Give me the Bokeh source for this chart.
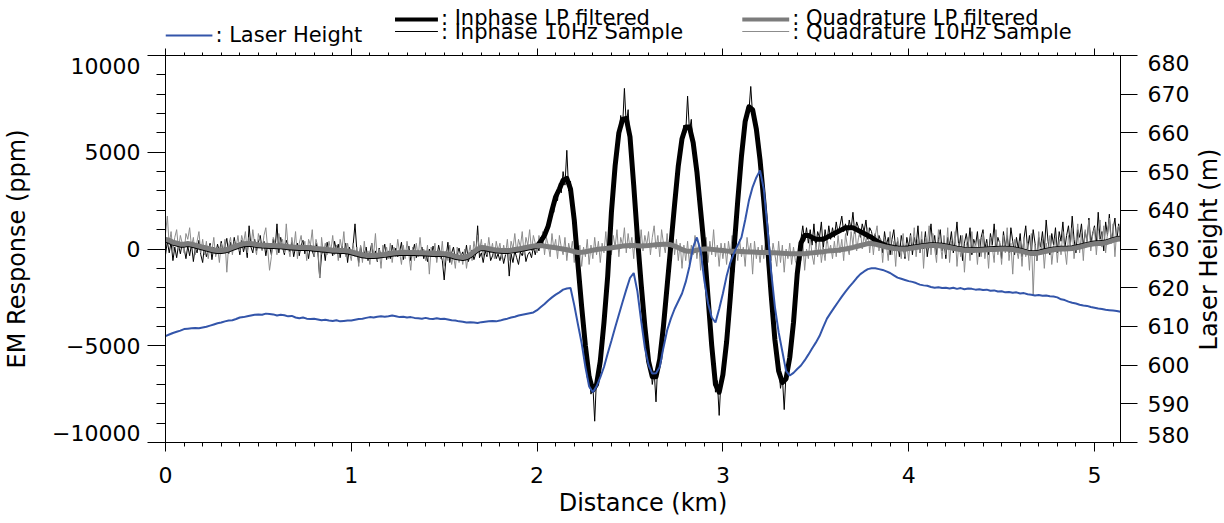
import math
import numpy as np
from bokeh.plotting import figure
from bokeh.models import Range1d, LinearAxis, SingleIntervalTicker, FixedTicker
from bokeh.layouts import column, row
from bokeh.core.properties import value
from bokeh.embed import file_html
from bokeh.resources import INLINE

# ---------------- data ----------------
# low-pass curves and laser height: one value every 0.02 km from 0.00 km
inphase_lp = [
    450, 400, 300, 250, 200, 200, 230, 200, 150, 100,
    50, 0, -50, -100, -130, -130, -100, -50, 30, 100,
    170, 220, 240, 230, 200, 170, 150, 140, 130, 130,
    120, 110, 90, 70, 50, 40, 30, 30, 30, 10,
    -10, -30, -50, -70, -90, -110, -120, -130, -130, -150,
    -200, -250, -300, -350, -380, -390, -390, -370, -350, -330,
    -300, -270, -250, -230, -220, -230, -230, -230, -240, -250,
    -260, -270, -280, -280, -280, -290, -320, -370, -430, -470,
    -490, -450, -350, -200, -50, 30, 10, -30, -70, -100,
    -120, -130, -130, -110, -80, -50, -20, 20, 60, 100,
    150, 400, 700, 1200, 2000, 2700, 3100, 3550, 3650, 3100,
    1500, -800, -3000, -5000, -6600, -7300, -7000, -5800, -3800, -1400,
    1900, 4300, 6000, 6700, 6750, 5800, 3300, 600, -1800, -4000,
    -5800, -6600, -6600, -5700, -4000, -1900, 200, 2300, 4300, 5700,
    6300, 6300, 5500, 4000, 2000, 0, -2500, -5000, -7000, -7400,
    -6500, -4800, -2500, 0, 2500, 4800, 6600, 7350, 7200, 6200,
    4600, 2500, 200, -2400, -4700, -6300, -6900, -6700, -5600, -3800,
    -1300, 300, 700, 700, 600, 500, 500, 500, 600, 700,
    800, 900, 1000, 1100, 1100, 1100, 1000, 900, 800, 700,
    600, 450, 350, 250, 180, 120, 80, 50, 40, 40,
    60, 90, 120, 150, 180, 200, 220, 220, 210, 190,
    160, 120, 80, 40, 10, -20, -40, -40, -30, -20,
    -10, 0, 10, 20, 30, 40, 40, 30, 10, -20,
    -60, -110, -160, -190, -190, -160, -120, -80, -40, 0,
    20, 40, 40, 50, 70, 100, 140, 190, 240, 280,
    310, 320, 330, 360, 420, 480, 540, 560,
]
quadrature_lp = [
    500, 450, 350, 300, 250, 250, 280, 250, 200, 150,
    100, 50, 0, -50, -80, -80, -50, 0, 80, 150,
    220, 270, 290, 280, 250, 220, 200, 190, 180, 180,
    170, 160, 140, 120, 100, 90, 80, 80, 80, 60,
    40, 20, 0, -20, -40, -60, -70, -80, -80, -100,
    -150, -200, -250, -300, -330, -340, -340, -320, -300, -280,
    -250, -220, -200, -180, -170, -180, -180, -180, -190, -200,
    -210, -220, -230, -230, -230, -240, -270, -320, -380, -420,
    -440, -400, -300, -150, 0, 80, 60, 20, -20, -50,
    -70, -80, -80, -60, -30, 0, 40, 80, 120, 150,
    170, 180, 150, 120, 90, 60, 30, 0, -40, -80,
    -140, -180, -170, -140, -100, -60, -30, 0, 20, 40,
    60, 90, 120, 150, 170, 180, 180, 170, 160, 170,
    180, 200, 220, 230, 240, 240, 220, 150, 60, -30,
    -100, -120, -100, -60, -20, 0, 0, -20, -40, -60,
    -80, -100, -110, -120, -120, -130, -140, -150, -160, -170,
    -180, -180, -180, -190, -200, -210, -220, -230, -240, -250,
    -250, -250, -240, -220, -200, -180, -160, -140, -110, -90,
    -80, -60, -30, 0, 40, 80, 130, 180, 230, 280,
    280, 250, 200, 150, 100, 60, 30, 10, 0, 0,
    20, 50, 80, 110, 140, 160, 180, 180, 170, 150,
    120, 80, 40, 0, -30, -60, -80, -80, -70, -60,
    -50, -40, -30, -20, -10, 0, 0, -10, -30, -60,
    -100, -150, -200, -230, -230, -200, -160, -120, -80, -40,
    -20, 0, 0, 10, 30, 60, 100, 150, 200, 240,
    270, 280, 290, 320, 380, 440, 500, 520,
]
laser_height = [
    607.5, 607.9, 608.3, 608.6, 608.9, 609.3, 609.4, 609.5, 609.6, 609.5,
    609.7, 609.9, 610.2, 610.5, 610.8, 611.0, 611.3, 611.5, 611.6, 611.9,
    612.3, 612.4, 612.6, 612.8, 613.0, 613.1, 613.0, 613.3, 613.2, 613.1,
    612.8, 613.0, 612.9, 612.6, 612.7, 612.3, 612.1, 612.3, 612.0, 611.9,
    612.0, 611.8, 611.6, 611.7, 611.5, 611.4, 611.6, 611.3, 611.4, 611.5,
    611.5, 611.7, 611.9, 612.0, 612.2, 612.4, 612.3, 612.5, 612.6, 612.5,
    612.6, 612.8, 612.6, 612.4, 612.5, 612.3, 612.4, 612.2, 612.1, 612.0,
    612.2, 612.0, 611.9, 612.1, 611.9, 612.0, 611.8, 611.6, 611.5, 611.3,
    611.2, 611.0, 611.1, 611.0, 610.9, 611.1, 611.2, 611.3, 611.4, 611.3,
    611.5, 611.8, 612.0, 612.3, 612.5, 612.8, 613.0, 613.2, 613.4, 613.6,
    614.2, 615.0, 615.8, 616.7, 617.5, 618.2, 618.8, 619.5, 619.8, 619.9,
    615.5, 610.5, 605.6, 599.5, 594.5, 593.0, 594.5, 596.8, 599.5, 603.0,
    606.3, 609.7, 613.0, 616.3, 619.5, 622.5, 623.8, 619.0, 611.5, 604.5,
    600.0, 597.8, 597.9, 599.5, 604.5, 609.0, 612.0, 614.5, 616.5, 618.5,
    621.5, 625.5, 630.5, 633.0, 629.5, 621.9, 616.0, 612.3, 611.0, 614.5,
    618.5, 623.0, 626.5, 629.0, 631.0, 633.0, 637.5, 642.5, 646.0, 648.5,
    650.3, 645.5, 635.6, 624.0, 615.0, 608.5, 603.5, 598.5, 597.3, 598.0,
    599.0, 599.9, 601.2, 602.7, 604.3, 605.8, 607.5, 609.8, 612.0, 613.5,
    614.9, 616.3, 617.7, 619.0, 620.2, 621.3, 622.5, 623.5, 624.2, 624.8,
    625.0, 625.0, 624.8, 624.6, 624.2, 623.8, 623.2, 622.6, 622.3, 622.0,
    621.7, 621.5, 621.2, 620.8, 620.6, 620.5, 620.2, 620.0, 620.1, 619.9,
    620.0, 619.8, 620.0, 619.7, 619.9, 619.6, 619.8, 619.7, 619.5, 619.6,
    619.4, 619.5, 619.2, 619.3, 619.0, 619.1, 618.8, 618.9, 618.7, 618.8,
    618.5, 618.6, 618.3, 618.2, 618.0, 618.1, 617.9, 618.0, 617.8, 617.7,
    617.5, 617.0, 616.8, 616.4, 616.1, 615.9, 615.6, 615.4, 615.3, 615.0,
    614.8, 614.6, 614.5, 614.3, 614.2, 614.1, 614.0, 613.8,
]
# 10 Hz samples: one value every 0.01 km from 0.00 km
inphase_10hz = [
    -300, 400, -200, 350, -600, 100, -450, 200, -250, 300, 50, -500, 150, -350, 250, -650, 100, -200, 450, -300,
    -700, 200, -400, -100, 300, -550, 100, -300, 250, -150, 400, -200, 100, 550, -250, 350, -100, 600, 0, 300,
    -300, 450, -150, 300, -450, 1200, 100, -200, 500, -100, 350, 700, -50, 400, -350, 250, 150, -300, 500, 0,
    1300, -200, 600, 100, -300, 450, 200, -150, 350, -400, 100, 300, -350, 200, 450, -250, 50, -500, 250, -100,
    -400, 300, -150, -1500, -300, 100, -600, 350, -200, 50, -350, 400, -100, 250, -450, 150, -250, 300, -700, 100,
    -300, 200, 1300, -100, -700, 150, -400, -250, 100, -600, -200, 300, -500, -100, -650, 50, -400, -200, 250, -550,
    -100, -500, 200, -300, 50, -400, -150, 350, -550, -100, -350, 150, -600, -200, 250, -450, -50, -300, 100, -500,
    -200, -650, 0, -400, 150, -300, -500, 200, -250, -600, -1600, -450, 350, -700, -200, 100, -550, -300, 50, -400,
    -150, -500, 200, -650, -300, -50, -550, -250, 1200, -450, -200, -700, -100, -400, 100, -600, -350, 0, -500, -250,
    -600, -200, -750, -300, 50, -1400, -250, -700, -100, -450, -800, -150, -350, 100, -650, -300, -150, -450, 100, -300,
    200, -100, 600, 200, 1000, 700, 1500, 1300, 2200, 1900, 2900, 2500, 3400, 2900, 4000, 3300, 5100, 3000, 3500, 2000,
    1800, 100, -500, -2200, -2700, -4300, -4700, -6200, -6300, -7500, -7000, -8900, -6600, -7000, -5400, -5200, -3500, -2900, -1100, 0,
    1600, 3400, 4000, 5600, 5700, 6900, 6300, 8300, 6400, 7200, 5500, 4900, 3000, 2300, 300, -300, -2100, -2600, -4300, -4600,
    -6100, -5900, -7000, -6300, -7900, -5800, -6000, -4600, -4300, -2700, -2200, -600, 0, 1500, 2000, 3600, 4000, 5300, 5400, 6400,
    6000, 7900, 6100, 6700, 5200, 5000, 3700, 3300, 1700, 1300, -300, -1000, -2800, -3500, -5300, -5700, -7400, -6800, -8600, -6700,
    -6800, -5400, -5100, -3400, -2700, -1000, -200, 1500, 2300, 3900, 4600, 6000, 6400, 7300, 7100, 8400, 6900, 7000, 5900, 5600,
    4900, 3300, 2700, 1100, 400, -1300, -2200, -3800, -4500, -5800, -6000, -7200, -6600, -8300, -6400, -6400, -5300, -4900, -3600, -2300,
    -1500, -200, 500, 1200, 400, 1100, 300, 1000, 200, 1300, 100, 900, 600, 1400, 0, 1000, 300, 1200, 500, 1100,
    600, 1400, 800, 1200, 1700, 900, 1300, 700, 1500, 1000, 1900, 800, 1400, 1100, 600, 1300, 900, 1500, 500, 1100,
    900, 300, 800, 100, 700, 400, -200, 900, 200, 600, -300, 500, 1000, 0, 400, -400, 700, 200, -500, 600,
    100, 800, -300, 600, 200, 1200, -200, 500, 0, 900, -400, 400, 1300, 100, 700, -300, 500, 1000, -100, 400,
    -500, 600, 200, 900, -200, 400, 1400, 0, 700, -600, 300, 800, 100, 1100, -300, 500, 200, 900, -400, 600,
    1000, 0, 500, -300, 800, 200, 1300, -100, 600, 300, -500, 900, 100, 700, -200, 1100, 400, -300, 600, 0,
    800, -400, 500, 1200, 0, 700, -200, 1000, 300, -600, 600, 100, 900, -100, 1500, 400, -300, 800, 200, 1100,
    -200, 900, 400, 1400, 0, 700, 1200, 200, 1700, 500, -200, 1000, 600, 1300, 100, 900, 400, 1600, 300, 800,
    1200, 200, 1900, 500, 900, -100, 1400, 700, 1800, 300, 1000, 1600, 400, 1300, 600,
]
quadrature_10hz = [
    800, 1700, 200, 900, -100, 600, 1000, 0, 700, 300, -200, 800, 500, 1100, 100, 600, -300, 400, 900, -200,
    500, -300, 400, -500, 200, -100, 600, -400, 100, -700, 300, -200, 500, -1200, 200, 600, -300, 400, 100, 700,
    -100, 700, 300, 900, -200, 600, 100, 1000, 200, -300, 800, 400, -100, 700, 1100, 0, -1100, -400, 600, 300,
    -300, 800, 200, 500, -200, 1300, 100, -400, 600, 0, 900, -500, 300, 700, -100, 400, -600, 500, 200, 1000,
    -400, 500, 100, -1500, 600, -200, 300, -300, 400, -100, 700, -300, 200, -600, 500, 0, 900, -400, 300, -200,
    -600, 300, -400, 100, -900, 200, -700, 400, -500, -100, -800, 300, -300, 800, -600, 0, -1000, 200, -400, 100,
    -500, 300, -700, 100, -400, 500, -200, -800, 200, -500, 400, -300, -1100, 100, -600, 300, -400, 600, -300, 0,
    -600, 200, -1300, 100, -400, 300, -700, 0, -500, 400, -900, -100, -600, 200, -800, -300, -1000, 100, -700, -200,
    -800, 0, -1000, -300, 200, -600, 400, -200, 700, -100, 500, -400, 300, -300, 600, -200, 300, -500, 400, -100,
    300, -500, 200, -300, 500, -600, 400, 0, 800, -200, 500, 100, 900, -300, 600, 200, 1000, -100, 700, 300,
    -200, 700, 100, 900, -300, 600, 200, -400, 800, 0, 500, -500, 700, 100, -300, 600, -600, 300, -200, 400,
    -700, 300, -600, 200, -900, 100, -400, 500, -800, 200, -500, 600, -300, 400, -700, 300, -200, 900, -400, 500,
    -300, 700, 100, 1000, -400, 600, 200, 1100, -200, 800, 0, 600, -500, 900, 300, -200, 1000, -100, 700, 200,
    900, -300, 600, 1200, 0, 700, -400, 1000, 300, -200, 800, -500, 400, 1100, -300, 500, -600, 300, -1000, 200,
    -600, 400, -800, 200, -300, 700, -500, 300, -1100, 500, -200, 600, -700, 400, -300, 1000, -400, 200, -900, 300,
    -500, 300, -800, 400, -300, 700, -1200, 200, -600, 500, -400, 100, -900, 600, -200, 300, -1300, 400, -500, 100,
    -700, 200, -500, 500, -1000, 100, -600, 300, -300, -900, 400, -700, 200, -1200, 0, -500, 300, -800, 100, -600,
    -900, 200, -600, 400, -1100, 0, -500, 600, -300, -800, 300, -400, 500, -700, 100, -600, 700, -200, 200, -500,
    400, -400, 700, -200, 500, -600, 800, 100, -300, 900, 200, 1300, -100, 600, 1000, 0, 700, 300, 1100, -200,
    800, -300, 700, 1200, -100, 500, -700, 600, 200, -600, 900, -300, 400, -900, 600, 100, -500, 800, -400, 300,
    -600, 700, 100, 1100, -400, 500, -200, 900, -1000, 600, 200, 1200, -300, 800, 0, -700, 1000, 300, -500, 700,
    -300, 1100, -700, 400, 0, 900, -900, 300, -400, 700, -1200, 200, 600, -600, 900, -200, 400, -800, 500, -400,
    800, -500, 300, -1000, 600, 100, -700, 1000, -300, 400, -800, 700, -200, 1100, -600, 300, -1300, 500, 0, -500,
    400, -900, 600, -400, 300, -1100, 800, -2400, 200, -600, 900, -300, 500, -1000, 300, -200, 700, -800, 100, 600,
    -700, 500, -300, 900, 0, -800, 700, 200, 1100, -500, 400, 1300, -200, 800, -600, 1000, 300, 1500, -100, 700,
    1100, -300, 900, 1500, 100, 1200, -200, 800, 1600, 300, 1300, -400, 1000, 1200, 400,
]
x_ticks_km = [0, 1, 2, 3, 4, 5]
em_ticks = [-10000, -5000, 0, 5000, 10000]
height_ticks = [580, 590, 600, 610, 620, 630, 640, 650, 660, 670, 680]
legend_labels = [": Inphase LP filtered", ": Quadrature LP filtered", ": Laser Height",
                 ": Inphase 10Hz Sample", ": Quadrature 10Hz Sample"]
right_title = "Laser Height (m)"

dist_lp = np.arange(len(inphase_lp)) * 0.02
dist_q = np.arange(len(quadrature_lp)) * 0.02
dist_h = np.arange(len(laser_height)) * 0.02
dist_i10 = np.arange(len(inphase_10hz)) * 0.01
dist_q10 = np.arange(len(quadrature_10hz)) * 0.01

# ---------------- styles ----------------
FONT = "DejaVu Sans"
BLUE = "#3355aa"
GRAY_THICK = "#7c7c7c"
GRAY_THIN = "#8c8c8c"
TICK_FS = "22px"
TITLE_FS = "24px"
MAIN_W = 1194          # plot column width; a 30 px strip on the right holds the right-hand title
TOTAL_H = 523

# ---------------- legend strip (frame aligned with the plot frame 163..1120) ----------------
LEG_H = 46
leg = figure(width=MAIN_W, height=LEG_H, x_range=Range1d(163, 1120), y_range=Range1d(LEG_H, 0),
             output_backend="svg", toolbar_location=None, x_axis_type=None, y_axis_type=None,
             min_border=0, outline_line_color=None)
leg.grid.visible = False
leg_items = [
    # x0, x1, y_line, color, width, text_y
    (393, 436, 19, "black", 4, 17),
    (741, 788, 19, GRAY_THICK, 4, 17),
    (163, 210, 35, BLUE, 2, 34),
    (393, 436, 31, "black", 1, 31),
    (741, 788, 31, GRAY_THIN, 1, 31),
]
for (x0, x1, yl, col, w, ty), lab in zip(leg_items, legend_labels):
    leg.line([x0, x1], [yl, yl], line_color=col, line_width=w)
    leg.text(x=[x1 + 3], y=[ty], text=[lab], text_font=value(FONT), text_font_size="21px",
             text_baseline="middle", text_align="left", text_color="black")

# ---------------- main plot ----------------
p = figure(width=MAIN_W, height=TOTAL_H - LEG_H, x_range=Range1d(0, 5.14), y_range=Range1d(-10000, 10000),
           output_backend="svg", toolbar_location=None, x_axis_type=None, y_axis_type=None,
           min_border_left=163, min_border_right=MAIN_W - 1120, min_border_top=9, min_border_bottom=81)
p.extra_y_ranges = {"h": Range1d(580, 680)}
p.outline_line_color = "black"
p.outline_line_width = 1


def style_axis(ax):
    ax.axis_line_color = "black"
    ax.major_tick_line_color = "black"
    ax.minor_tick_line_color = "black"
    ax.major_tick_in = 0
    ax.minor_tick_in = 0
    ax.major_label_text_font = FONT
    ax.major_label_text_font_size = TICK_FS
    ax.major_label_text_color = "black"
    ax.axis_label_text_font = FONT
    ax.axis_label_text_font_size = TITLE_FS
    ax.axis_label_text_font_style = "normal"
    ax.axis_label_text_color = "black"


def label_only(ax):
    ax.axis_line_color = None
    ax.major_tick_line_color = None
    ax.minor_tick_line_color = None
    ax.major_tick_out = 0
    ax.minor_tick_out = 0


# bottom / top
xb = LinearAxis(ticker=SingleIntervalTicker(interval=1, num_minor_ticks=10), axis_label="Distance (km)")
style_axis(xb)
xb.major_tick_out = 9
xb.minor_tick_out = 4
xb.major_label_standoff = 15
xb.axis_label_standoff = 3
p.add_layout(xb, "below")

xt = LinearAxis(ticker=SingleIntervalTicker(interval=1, num_minor_ticks=10))
style_axis(xt)
xt.major_tick_out = 7
xt.minor_tick_out = 3
xt.major_label_overrides = {t: "" for t in x_ticks_km}
xt.major_label_text_font_size = "1px"
xt.major_label_standoff = 0
p.add_layout(xt, "above")

# left: ticks (inner axis) + labels nudged inward at the ends (outer axis)
yl_ticks = LinearAxis(ticker=SingleIntervalTicker(interval=5000, num_minor_ticks=5))
style_axis(yl_ticks)
yl_ticks.major_tick_out = 18
yl_ticks.minor_tick_out = 9
yl_ticks.major_label_overrides = {t: "" for t in em_ticks}
yl_ticks.major_label_text_font_size = "1px"
yl_ticks.major_label_standoff = 0
p.add_layout(yl_ticks, "left")

yl_lab = LinearAxis(ticker=FixedTicker(ticks=[-9530, -5000, 0, 5000, 9480], minor_ticks=[]),
                    axis_label="EM Response (ppm)")
style_axis(yl_lab)
label_only(yl_lab)
yl_lab.major_label_standoff = 7
yl_lab.axis_label_standoff = 18
yl_lab.major_label_overrides = {-9530: "\u221210000", -5000: "\u22125000", 9480: "10000"}
p.add_layout(yl_lab, "left")

# right: ticks (inner axis) + labels (outer axis)
yr_ticks = LinearAxis(y_range_name="h", ticker=SingleIntervalTicker(interval=10, num_minor_ticks=2))
style_axis(yr_ticks)
yr_ticks.major_tick_out = 17
yr_ticks.minor_tick_out = 0
yr_ticks.minor_tick_line_color = None
yr_ticks.major_label_overrides = {t: "" for t in height_ticks}
yr_ticks.major_label_text_font_size = "1px"
yr_ticks.major_label_standoff = 0
p.add_layout(yr_ticks, "right")

yr_lab = LinearAxis(y_range_name="h", ticker=FixedTicker(ticks=[582] + height_ticks[1:-1] + [678], minor_ticks=[]))
style_axis(yr_lab)
label_only(yr_lab)
yr_lab.major_label_standoff = 10
yr_lab.major_label_overrides = {582: "580", 678: "680"}
p.add_layout(yr_lab, "right")

p.line(dist_i10, inphase_10hz, line_color="black", line_width=1)
p.line(dist_q10, quadrature_10hz, line_color=GRAY_THIN, line_width=1)
p.line(dist_lp, inphase_lp, line_color="black", line_width=5, line_join="round")
p.line(dist_q, quadrature_lp, line_color=GRAY_THICK, line_width=5, line_join="round")
p.line(dist_h, laser_height, line_color=BLUE, line_width=2, y_range_name="h")

# ---------------- right-hand title strip (reads bottom to top) ----------------
tstrip = figure(width=1224 - MAIN_W, height=TOTAL_H, x_range=Range1d(MAIN_W, 1224), y_range=Range1d(TOTAL_H, 0),
                output_backend="svg", toolbar_location=None, x_axis_type=None, y_axis_type=None,
                min_border=0, outline_line_color=None)
tstrip.grid.visible = False
tstrip.text(x=[1208], y=[249], text=[right_title], angle=math.pi / 2, text_font=value(FONT),
            text_font_size=TITLE_FS, text_align="center", text_baseline="middle", text_color="black")

layout = row(column(leg, p, spacing=0), tstrip, spacing=0)
open("out.html", "w").write(file_html(layout, INLINE))
